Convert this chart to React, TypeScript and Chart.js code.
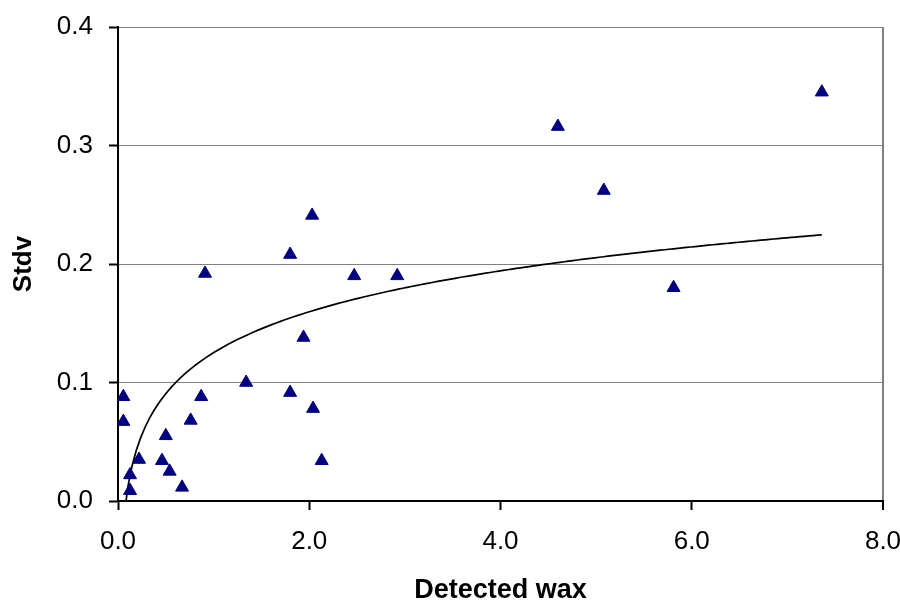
import React, { useEffect, useRef } from "react";
import { Chart, registerables } from "chart.js";

Chart.register(...registerables);

// Measured samples: detected wax (x) against standard deviation (y)
const waxValues = [
  7.36, 4.6, 5.08, 5.81, 0.91, 1.8, 2.03, 1.94, 2.47, 2.92, 0.056, 0.056, 1.34,
  1.8, 0.87, 2.04, 0.76, 0.5, 0.22, 0.46, 2.13, 0.54, 0.126, 0.126, 0.67,
];
const stdvValues = [
  0.345, 0.316, 0.262, 0.18, 0.192, 0.208, 0.241, 0.138, 0.19, 0.19, 0.088,
  0.067, 0.1, 0.0915, 0.088, 0.078, 0.068, 0.055, 0.035, 0.034, 0.034, 0.025,
  0.022, 0.0087, 0.0115,
];

// Axis ranges and tick steps
const xRange = [0, 8];
const xStep = 2;
const yRange = [0, 0.4];
const yStep = 0.1;

const xTitle = "Detected wax";
const yTitle = "Stdv";

// Least-squares logarithmic trendline y = a*ln(x) + b, fitted to the samples
function logFit(xs: number[], ys: number[]) {
  const n = xs.length;
  const ls = xs.map((x) => Math.log(x));
  const mL = ls.reduce((s, v) => s + v, 0) / n;
  const mY = ys.reduce((s, v) => s + v, 0) / n;
  let sxy = 0;
  let sxx = 0;
  for (let i = 0; i < n; i++) {
    sxy += (ls[i] - mL) * (ys[i] - mY);
    sxx += (ls[i] - mL) * (ls[i] - mL);
  }
  const a = sxy / sxx;
  const b = mY - a * mL;
  return { a, b };
}

function trendPoints(xs: number[], ys: number[], steps: number) {
  const { a, b } = logFit(xs, ys);
  const lo = Math.min(...xs);
  const hi = Math.max(...xs);
  const pts: { x: number; y: number }[] = [];
  for (let i = 0; i <= steps; i++) {
    const x = lo + ((hi - lo) * i) / steps;
    pts.push({ x, y: a * Math.log(x) + b });
  }
  return pts;
}

const FONT = '"Liberation Sans", Arial, sans-serif';

export default function App() {
  const ref = useRef<HTMLCanvasElement | null>(null);

  useEffect(() => {
    if (!ref.current) return;
    const scatter = waxValues.map((x, i) => ({ x, y: stdvValues[i] }));
    const chart = new Chart(ref.current, {
      type: "scatter",
      data: {
        datasets: [
          {
            type: "scatter",
            data: scatter,
            pointStyle: "triangle",
            pointRadius: 7.5,
            pointHoverRadius: 7.5,
            backgroundColor: "#000080",
            borderColor: "#000080",
            borderWidth: 1,
          },
          {
            type: "line",
            data: trendPoints(waxValues, stdvValues, 160),
            borderColor: "#000000",
            borderWidth: 1.7,
            pointRadius: 0,
            fill: false,
            tension: 0,
          } as any,
        ],
      },
      options: {
        responsive: false,
        animation: false,
        events: [],
        layout: { padding: { top: 27, right: 17, left: 0, bottom: 0 } },
        plugins: {
          legend: { display: false },
          tooltip: { enabled: false },
        },
        scales: {
          x: {
            type: "linear",
            min: xRange[0],
            max: xRange[1],
            afterFit: (s: any) => {
              s.height = 100;
              s.paddingLeft = 0;
              s.paddingRight = 0;
            },
            ticks: {
              stepSize: xStep,
              padding: 16,
              color: "#000",
              font: { family: FONT, size: 26 },
              callback: (v: any) => Number(v).toFixed(1),
            },
            grid: {
              drawOnChartArea: true,
              drawTicks: true,
              tickLength: 9,
              tickColor: "#000",
              tickWidth: 2,
              color: (c: any) => (c.tick && c.tick.value === xRange[1] ? "#808080" : "rgba(0,0,0,0)"),
              lineWidth: (c: any) => (c.tick && c.tick.value === xRange[1] ? 2 : 1),
            },
            border: { display: true, color: "#000", width: 2 },
            title: {
              display: true,
              text: xTitle,
              color: "#000",
              font: { family: FONT, size: 27, weight: "bold", lineHeight: 0.8 },
              padding: { top: 0, bottom: 0 },
            },
          },
          y: {
            type: "linear",
            min: yRange[0],
            max: yRange[1],
            afterFit: (s: any) => {
              s.width = 118;
              s.paddingTop = 0;
              s.paddingBottom = 0;
            },
            ticks: {
              stepSize: yStep,
              padding: 16,
              color: "#000",
              font: { family: FONT, size: 26 },
              callback: (v: any) => Number(v).toFixed(1),
            },
            grid: {
              drawOnChartArea: true,
              drawTicks: true,
              tickLength: 9,
              tickColor: "#000",
              tickWidth: 2,
              color: (c: any) => (c.tick && c.tick.value === 0 ? "rgba(0,0,0,0)" : "#808080"),
              lineWidth: 1,
            },
            border: { display: true, color: "#000", width: 2 },
            title: {
              display: true,
              text: yTitle,
              color: "#000",
              font: { family: FONT, size: 26, weight: "bold", lineHeight: 1 },
              padding: { top: 11, bottom: 0 },
            },
          },
        },
      },
    });
    return () => chart.destroy();
  }, []);

  return (
    <div style={{ position: "fixed", left: 0, top: 0, width: 900, height: 601, background: "#fff" }}>
      <canvas ref={ref} width={900} height={601} style={{ display: "block" }} />
    </div>
  );
}
